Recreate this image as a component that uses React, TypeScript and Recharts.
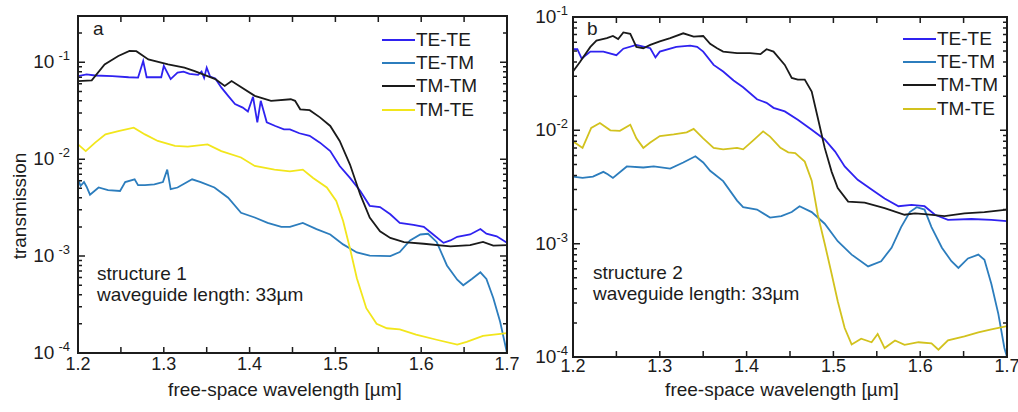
import { LineChart, Line, XAxis, YAxis, Legend } from 'recharts';

const FONT = '"Liberation Sans", Arial, Helvetica, sans-serif';
const INK = '#1c1c1c';

// wavelength [um], transmission
const A_TE_TE = [
  [1.2, 0.072], [1.21, 0.075], [1.22, 0.073], [1.24, 0.072], [1.259, 0.07], [1.27, 0.0695], [1.276, 0.103],
  [1.28, 0.07], [1.297, 0.07], [1.3, 0.092], [1.308, 0.067], [1.316, 0.078], [1.323, 0.08], [1.33, 0.076],
  [1.34, 0.074], [1.344, 0.08], [1.347, 0.069], [1.35, 0.088], [1.354, 0.071], [1.36, 0.068], [1.367, 0.055],
  [1.375, 0.045], [1.383, 0.037], [1.392, 0.034], [1.398, 0.031], [1.404, 0.044], [1.409, 0.024], [1.413, 0.04],
  [1.42, 0.024], [1.43, 0.022], [1.44, 0.0203], [1.447, 0.0203], [1.458, 0.0185], [1.47, 0.0174], [1.482, 0.0148],
  [1.494, 0.0121], [1.505, 0.0085], [1.517, 0.0064], [1.529, 0.0047], [1.54, 0.0033], [1.552, 0.0032],
  [1.564, 0.0027], [1.575, 0.0022], [1.591, 0.0021], [1.603, 0.002], [1.614, 0.00167], [1.626, 0.00137],
  [1.634, 0.00145], [1.642, 0.00158], [1.657, 0.00167], [1.669, 0.0019], [1.676, 0.0017], [1.688, 0.0016],
  [1.7, 0.00137],
];
const A_TE_TM = [
  [1.2, 0.0062], [1.203, 0.0053], [1.207, 0.0058], [1.21, 0.0052], [1.214, 0.0043], [1.224, 0.0051],
  [1.235, 0.0048], [1.249, 0.0047], [1.255, 0.0058], [1.266, 0.0062], [1.27, 0.0054], [1.278, 0.0054],
  [1.289, 0.0055], [1.299, 0.0058], [1.304, 0.0078], [1.308, 0.0049], [1.316, 0.0051], [1.333, 0.0062],
  [1.343, 0.0058], [1.359, 0.0051], [1.375, 0.004], [1.39, 0.0028], [1.406, 0.0025], [1.421, 0.0022],
  [1.437, 0.002], [1.447, 0.002], [1.462, 0.0022], [1.478, 0.0019], [1.494, 0.00167], [1.509, 0.00132],
  [1.525, 0.00109], [1.54, 0.00101], [1.564, 0.001], [1.575, 0.0011], [1.587, 0.00145], [1.599, 0.00167],
  [1.608, 0.0017], [1.618, 0.0014], [1.63, 0.0008], [1.642, 0.00057], [1.649, 0.0005], [1.659, 0.00058],
  [1.669, 0.00068], [1.676, 0.00058], [1.684, 0.00037], [1.692, 0.00021], [1.7, 0.0001],
];
const A_TM_TM = [
  [1.2, 0.064], [1.216, 0.065], [1.231, 0.095], [1.247, 0.116], [1.26, 0.131], [1.268, 0.13], [1.282, 0.107],
  [1.305, 0.095], [1.324, 0.088], [1.336, 0.081], [1.36, 0.067], [1.371, 0.057], [1.379, 0.064], [1.406, 0.045],
  [1.425, 0.04], [1.448, 0.0415], [1.453, 0.04], [1.459, 0.0327], [1.47, 0.032], [1.482, 0.027], [1.494, 0.022],
  [1.505, 0.0154], [1.517, 0.0088], [1.529, 0.0043], [1.54, 0.0025], [1.552, 0.0018], [1.564, 0.00154],
  [1.58, 0.00139], [1.603, 0.00134], [1.634, 0.00126], [1.657, 0.0013], [1.672, 0.0014], [1.684, 0.00128],
  [1.7, 0.0013],
];
const A_TM_TE = [
  [1.2, 0.0142], [1.209, 0.0121], [1.22, 0.0148], [1.232, 0.018], [1.247, 0.0195], [1.265, 0.0211],
  [1.278, 0.018], [1.293, 0.0154], [1.313, 0.0137], [1.328, 0.0135], [1.351, 0.0142], [1.367, 0.0121],
  [1.39, 0.0104], [1.406, 0.0085], [1.429, 0.0078], [1.447, 0.0075], [1.462, 0.0078], [1.474, 0.0064],
  [1.49, 0.0051], [1.501, 0.0037], [1.509, 0.0023], [1.517, 0.0012], [1.525, 0.00059], [1.536, 0.00029],
  [1.548, 0.0002], [1.56, 0.00018], [1.575, 0.000175], [1.594, 0.000155], [1.618, 0.000137], [1.642, 0.000122],
  [1.653, 0.00013], [1.672, 0.00015], [1.7, 0.00016],
];

const B_TE_TE = [
  [1.2, 0.052], [1.205, 0.052], [1.21, 0.043], [1.22, 0.0495], [1.235, 0.0495], [1.25, 0.046], [1.258, 0.0525],
  [1.273, 0.0567], [1.289, 0.053], [1.295, 0.044], [1.3, 0.0495], [1.319, 0.0545], [1.335, 0.056],
  [1.343, 0.0545], [1.35, 0.0495], [1.362, 0.0378], [1.373, 0.033], [1.385, 0.0275], [1.396, 0.024],
  [1.412, 0.0188], [1.423, 0.0175], [1.431, 0.0158], [1.444, 0.0147], [1.459, 0.0124], [1.475, 0.0101],
  [1.49, 0.0083], [1.502, 0.0065], [1.513, 0.0048], [1.528, 0.00366], [1.544, 0.003], [1.559, 0.0025],
  [1.575, 0.00214], [1.59, 0.0022], [1.605, 0.00214], [1.617, 0.0018], [1.632, 0.00162], [1.659, 0.00165],
  [1.682, 0.00162], [1.7, 0.00158],
];
const B_TE_TM = [
  [1.2, 0.0039], [1.211, 0.0038], [1.223, 0.0039], [1.235, 0.0043], [1.24, 0.0041], [1.246, 0.0038],
  [1.262, 0.0048], [1.281, 0.0047], [1.293, 0.0048], [1.312, 0.0046], [1.327, 0.0052], [1.341, 0.0059],
  [1.35, 0.0052], [1.358, 0.0044], [1.373, 0.00356], [1.389, 0.0024], [1.396, 0.0021], [1.412, 0.002],
  [1.427, 0.0017], [1.44, 0.00175], [1.452, 0.0019], [1.461, 0.00214], [1.475, 0.0019], [1.49, 0.0015],
  [1.505, 0.00105], [1.521, 0.0008], [1.54, 0.00063], [1.555, 0.0007], [1.567, 0.00092], [1.578, 0.0014],
  [1.588, 0.0019], [1.596, 0.0021], [1.605, 0.002], [1.613, 0.0014], [1.625, 0.00092], [1.636, 0.0007],
  [1.644, 0.00061], [1.655, 0.00074], [1.667, 0.0008], [1.674, 0.00072], [1.682, 0.00044], [1.69, 0.00024],
  [1.697, 0.00012], [1.7, 0.0001],
];
const B_TM_TM = [
  [1.2, 0.033], [1.208, 0.04], [1.22, 0.0545], [1.227, 0.062], [1.239, 0.065], [1.246, 0.068], [1.252, 0.064],
  [1.258, 0.073], [1.266, 0.071], [1.273, 0.0545], [1.281, 0.053], [1.289, 0.0567], [1.3, 0.061],
  [1.312, 0.065], [1.327, 0.0718], [1.339, 0.067], [1.35, 0.068], [1.358, 0.058], [1.366, 0.053],
  [1.373, 0.0495], [1.389, 0.048], [1.404, 0.048], [1.416, 0.047], [1.423, 0.052], [1.431, 0.0495],
  [1.444, 0.0378], [1.452, 0.029], [1.459, 0.028], [1.467, 0.028], [1.475, 0.022], [1.482, 0.0129],
  [1.49, 0.007], [1.498, 0.0043], [1.505, 0.0031], [1.517, 0.00235], [1.536, 0.0023], [1.559, 0.00206],
  [1.582, 0.0018], [1.594, 0.00185], [1.605, 0.00182], [1.628, 0.00175], [1.651, 0.00185], [1.674, 0.0019],
  [1.7, 0.002],
];
const B_TM_TE = [
  [1.2, 0.008], [1.211, 0.007], [1.221, 0.0105], [1.231, 0.0116], [1.243, 0.01], [1.254, 0.0099],
  [1.266, 0.0112], [1.273, 0.0085], [1.281, 0.007], [1.289, 0.0078], [1.3, 0.0089], [1.316, 0.0092],
  [1.331, 0.0096], [1.339, 0.0103], [1.35, 0.0085], [1.362, 0.007], [1.373, 0.0068], [1.389, 0.007],
  [1.396, 0.0068], [1.408, 0.0082], [1.419, 0.0098], [1.427, 0.0088], [1.439, 0.007], [1.448, 0.0064],
  [1.456, 0.0063], [1.467, 0.0053], [1.475, 0.0036], [1.482, 0.0018], [1.49, 0.001], [1.498, 0.00054],
  [1.505, 0.00031], [1.513, 0.00018], [1.521, 0.000129], [1.532, 0.000145], [1.544, 0.000135],
  [1.551, 0.00016], [1.559, 0.00012], [1.571, 0.00014], [1.582, 0.000128], [1.598, 0.000135],
  [1.613, 0.000132], [1.621, 0.000116], [1.632, 0.00014], [1.651, 0.000152], [1.667, 0.000165],
  [1.682, 0.000175], [1.7, 0.000187],
];

const SERIES_NAMES = ['TE-TE', 'TE-TM', 'TM-TM', 'TM-TE'];
const COLORS_A = ['#2f22f0', '#2c7dbd', '#1a1a1a', '#f2e61c'];
const COLORS_B = ['#2f22f0', '#2c7dbd', '#1a1a1a', '#d2c21e'];

const X_TICKS = [1.2, 1.25, 1.3, 1.35, 1.4, 1.45, 1.5, 1.55, 1.6, 1.65, 1.7];
const X_LABELS = ['1.2', '1.3', '1.4', '1.5', '1.6', '1.7'];
const DECADES = [1e-4, 1e-3, 1e-2, 1e-1];
const DECADE_EXP = ['-4', '-3', '-2', '-1'];

const logTicks = (top: number) => {
  const out: number[] = [];
  DECADES.forEach((d) => {
    for (let k = 1; k <= 9; k++) {
      const v = d * k;
      if (v <= top * 1.0001) out.push(v);
    }
  });
  return out;
};

const pts = (rows: number[][]) => rows.map(([w, t]) => ({ w, t }));

const isMajor = (v: number) => DECADES.some((d) => Math.abs(v / d - 1) < 1e-6);
const expOf = (v: number) => DECADE_EXP[DECADES.findIndex((d) => Math.abs(v / d - 1) < 1e-6)];
const xLabel = (v: number) => X_LABELS.find((l) => Math.abs(parseFloat(l) - v) < 1e-6);

const FRAME_W = 2;
const TICK_W = 1.5;
const Y_AXIS_W = 78;

// inward ticks, mirrored on the opposite side of the box (matlab style)
const leftTick = (plotW: number, labelGap: number, supDx: number) => (p: any) => {
  const x = Number(p.x);
  const y = Number(p.y);
  const major = isMajor(p.payload.value);
  const len = major ? 7 : 4;
  return (
    <g>
      <path d={`M${x},${y}h${len}M${x + plotW},${y}h${-len}`} stroke={INK} strokeWidth={TICK_W} fill="none" />
      {major && (
        <text x={x - labelGap} y={y + 6} textAnchor="end" fill={INK} fontFamily={FONT} fontSize={19}>
          <tspan>10</tspan>
          <tspan dx={supDx} dy={-8} fontSize={13}>{expOf(p.payload.value)}</tspan>
        </text>
      )}
    </g>
  );
};

// first bottom tick sits at the plot's lower-left corner, so it also carries the box outline
const bottomTick = (plotW: number, plotH: number, labelDy: number) => (p: any) => {
  const x = Number(p.x);
  const y = Number(p.y);
  const label = xLabel(p.payload.value);
  return (
    <g>
      {p.index === 0 && (
        <path d={`M${x},${y}V${y - plotH}H${x + plotW}V${y}Z`} stroke={INK} strokeWidth={FRAME_W} fill="none" />
      )}
      <path d={`M${x},${y}v-6M${x},${y - plotH}v6`} stroke={INK} strokeWidth={TICK_W} fill="none" />
      {label && (
        <text x={x} y={y + labelDy} textAnchor="middle" fill={INK} fontFamily={FONT} fontSize={18}>
          {label}
        </text>
      )}
    </g>
  );
};

const legendContent = (colors: string[]) => () => (
  <div style={{ fontFamily: FONT, fontSize: 19, color: INK }}>
    {SERIES_NAMES.map((n, i) => (
      <div key={n} style={{ display: 'flex', alignItems: 'center', height: 23.3 }}>
        <span style={{ display: 'inline-block', width: 33, borderTop: `2px solid ${colors[i]}`, marginRight: 1 }} />
        {n}
      </div>
    ))}
  </div>
);

interface PanelProps {
  left: number;
  width: number;
  top: number;
  xAxisH: number;
  right: number;
  yTop: number;
  series: number[][][];
  colors: string[];
  labelGap: number;
  supDx: number;
  xLabelDy: number;
  legendPos: { left: number; top: number };
}

function Panel(p: PanelProps) {
  const plotW = p.width - Y_AXIS_W - p.right;
  const plotH = 412 - p.top - p.xAxisH;
  return (
    <div style={{ position: 'absolute', left: p.left, top: 0, width: p.width, height: 412 }}>
      <LineChart width={p.width} height={412} margin={{ top: p.top, right: p.right, bottom: 0, left: 0 }}>
        <XAxis xAxisId="b" type="number" dataKey="w" domain={[1.2, 1.7]} ticks={X_TICKS} interval={0}
          height={p.xAxisH} tickSize={0} tickMargin={0} tickLine={false} axisLine={false}
          allowDataOverflow tick={bottomTick(plotW, plotH, p.xLabelDy)} />
        <YAxis yAxisId="l" type="number" scale="log" domain={[1e-4, p.yTop]} ticks={logTicks(p.yTop)}
          interval={0} width={Y_AXIS_W} tickSize={0} tickMargin={0} tickLine={false} axisLine={false}
          allowDataOverflow tick={leftTick(plotW, p.labelGap, p.supDx)} />
        <Legend layout="vertical" align="center" verticalAlign="middle" content={legendContent(p.colors)}
          wrapperStyle={{ left: p.legendPos.left, top: p.legendPos.top, width: 'auto' }} />
        {p.series.map((rows, i) => (
          <Line key={SERIES_NAMES[i]} name={SERIES_NAMES[i]} xAxisId="b" yAxisId="l" data={pts(rows)}
            dataKey="t" type="linear" stroke={p.colors[i]} strokeWidth={1.8} dot={false}
            isAnimationActive={false} />
        ))}
      </LineChart>
      {/* fallback outline over the plot area */}
      <div style={{
        position: 'absolute', left: Y_AXIS_W - FRAME_W / 2, top: p.top - FRAME_W / 2,
        width: plotW + FRAME_W, height: plotH + FRAME_W, boxSizing: 'border-box',
        border: `${FRAME_W}px solid ${INK}`, pointerEvents: 'none',
      }} />
    </div>
  );
}

const textStyle = { fontFamily: FONT, fontSize: 19, fill: INK };

export default function App() {
  return (
    <div style={{ position: 'absolute', left: 0, top: 0, width: 1018, height: 412, background: '#fff' }}>
      <Panel left={0} width={520} top={16} xAxisH={59} right={13} yTop={0.3}
        series={[A_TE_TE, A_TE_TM, A_TM_TM, A_TM_TE]} colors={COLORS_A}
        labelGap={8} supDx={4} xLabelDy={17} legendPos={{ left: 382, top: 28 }} />
      <Panel left={495} width={523} top={17} xAxisH={55} right={11} yTop={0.1}
        series={[B_TE_TE, B_TE_TM, B_TM_TM, B_TM_TE]} colors={COLORS_B}
        labelGap={5} supDx={0} xLabelDy={15} legendPos={{ left: 408, top: 27 }} />
      <svg width={1018} height={412} style={{ position: 'absolute', left: 0, top: 0, pointerEvents: 'none' }}>
        <text x={93} y={35} {...textStyle}>a</text>
        <text x={587} y={35} {...textStyle}>b</text>
        <text x={26} y={206} textAnchor="middle" transform="rotate(-90 26 206)" {...textStyle}>transmission</text>
        <text x={97} y={280} {...textStyle}>structure 1</text>
        <text x={97} y={301} {...textStyle}>waveguide length: 33µm</text>
        <text x={593} y={279} {...textStyle}>structure 2</text>
        <text x={593} y={300} {...textStyle}>waveguide length: 33µm</text>
        <text x={285} y={396} textAnchor="middle" {...textStyle}>free-space wavelength [µm]</text>
        <text x={782} y={396} textAnchor="middle" {...textStyle}>free-space wavelength [µm]</text>
      </svg>
    </div>
  );
}
